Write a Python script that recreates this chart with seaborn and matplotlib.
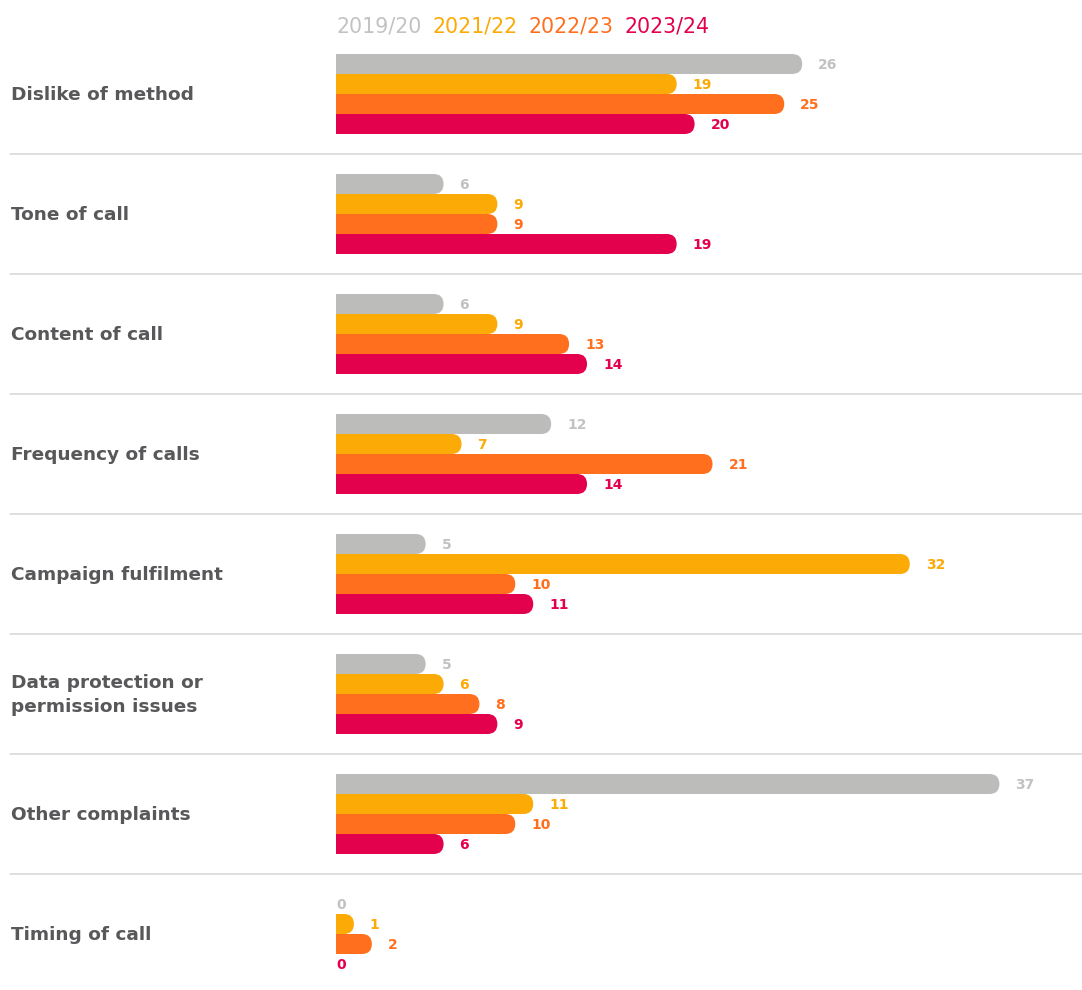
import matplotlib
matplotlib.use("Agg")
import matplotlib.pyplot as plt
from matplotlib.patches import FancyBboxPatch
from matplotlib.lines import Line2D
import matplotlib.transforms as mtransforms
import numpy as np
import pandas as pd
import seaborn as sns

categories = [
    "Dislike of method",
    "Tone of call",
    "Content of call",
    "Frequency of calls",
    "Campaign fulfilment",
    "Data protection or\npermission issues",
    "Other complaints",
    "Timing of call",
]
years = ["2019/20", "2021/22", "2022/23", "2023/24"]
v_2019_20 = [26, 6, 6, 12, 5, 5, 37, 0]
v_2021_22 = [19, 9, 9, 7, 32, 6, 11, 1]
v_2022_23 = [25, 9, 13, 21, 10, 8, 10, 2]
v_2023_24 = [20, 19, 14, 14, 11, 9, 6, 0]

bar_colors = ["#BCBCBA", "#FBAA06", "#FF6F1E", "#E3004C"]
text_colors = ["#C2C2C0", "#FBAA06", "#FF6F1E", "#E3004C"]
label_color = "#58585A"
rule_color = "#D9D9D9"

series = [v_2019_20, v_2021_22, v_2022_23, v_2023_24]
df = pd.DataFrame(
    [(c, y, v) for y, vals in zip(years, series) for c, v in zip(categories, vals)],
    columns=["category", "year", "value"],
)

sns.set_theme(style="white")
plt.rcParams["font.family"] = ["DejaVu Sans"]

W, H, DPI = 1082, 990, 100
fig = plt.figure(figsize=(W / DPI, H / DPI), dpi=DPI)

left_px, top_px = 336, 34
ax = fig.add_axes([left_px / W, 0, 1 - left_px / W, (H - top_px) / H])

sns.barplot(
    data=df, x="value", y="category", hue="year", order=categories,
    hue_order=years, palette=bar_colors, orient="h", width=2 / 3,
    dodge=True, gap=0, legend=False, ax=ax, saturation=1,
)

px_per_unit = 17.93
ax_w_px = W - left_px
ax.set_xlim(0, ax_w_px / px_per_unit)
group_px = 120
ax_h_px = H - top_px
ax.set_ylim(-0.5 + ax_h_px / group_px, -0.5)
ax.axis("off")

# Replace the plain rectangles with bars rounded at the value end
r = 10 / px_per_unit
for p in list(ax.patches):
    x0, y0, w, h = p.get_x(), p.get_y(), p.get_width(), p.get_height()
    fc = p.get_facecolor()
    p.remove()
    if w <= 0:
        continue
    ax.add_patch(FancyBboxPatch(
        (x0 - r, y0), w + r, h,
        boxstyle=f"round,pad=0,rounding_size={r}",
        mutation_aspect=h / (2 * r),
        facecolor=fc, edgecolor="none", linewidth=0,
    ))

# Value labels
bar_h = (2 / 3) / len(years)
for k, (vals, tc) in enumerate(zip(series, text_colors)):
    for i, v in enumerate(vals):
        yc = i - 1 / 3 + bar_h * (k + 0.5)
        off = 16 / px_per_unit if v > 0 else 0.02
        ax.text(v + off, yc + 0.006, str(v), color=tc, fontsize=10,
                fontweight="bold", ha="left", va="center")

# Category labels and separators
blend = mtransforms.blended_transform_factory(fig.transFigure, ax.transData)
for i, c in enumerate(categories):
    fig.text(11 / W, i + 0.008, c, transform=blend, color=label_color,
             fontsize=13.3, fontweight="bold", ha="left", va="center",
             linespacing=1.45)
    if i < len(categories) - 1:
        fig.add_artist(Line2D([10 / W, 1], [i + 0.5, i + 0.5], transform=blend,
                              color=rule_color, linewidth=1.2))

# Year legend as coloured text
x_px = left_px
renderer = fig.canvas.get_renderer()
for yr, tc in zip(years, text_colors):
    t = fig.text(x_px / W, 1 - 26 / H, yr, color=tc, fontsize=14.8,
                 ha="left", va="center")
    bb = t.get_window_extent(renderer=renderer)
    x_px += bb.width + 11

fig.savefig("out.png", dpi=DPI, facecolor="white")
